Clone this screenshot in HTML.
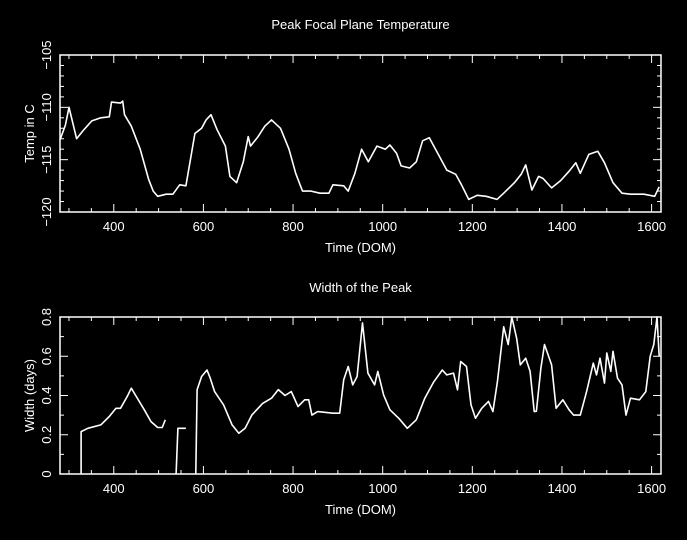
<!DOCTYPE html>
<html><head><meta charset="utf-8">
<style>
html,body{margin:0;padding:0;background:#000;}
svg{display:block;font-family:"Liberation Sans",sans-serif;}
text{fill:#fff;font-size:13px;}
</style></head>
<body>
<svg id="chart" width="687" height="540" viewBox="0 0 687 540">
<rect width="687" height="540" fill="#000"/>
</svg>
<script>
const tempDom=[280,292,300,317,332,351,371,390,395,415,420,424,439,459,478,488,498,517,532,547,561,571,581,596,606,617,630,649,659,674,689,700,705,722,737,752,772,791,806,821,840,860,880,889,913,923,938,953,968,987,1006,1016,1031,1041,1060,1075,1089,1104,1124,1143,1163,1177,1192,1211,1231,1255,1270,1294,1309,1319,1333,1348,1358,1377,1397,1416,1431,1441,1460,1480,1495,1514,1534,1553,1583,1607,1617];
const tempVals=[-113.1,-111.7,-110,-113,-112.2,-111.3,-111,-110.9,-109.5,-109.6,-109.4,-110.7,-111.8,-114,-116.9,-118,-118.5,-118.3,-118.3,-117.4,-117.5,-115,-112.5,-112,-111.2,-110.7,-112.1,-113.7,-116.6,-117.2,-115.2,-112.8,-113.7,-112.8,-111.8,-111.2,-112,-114,-116.3,-118,-118,-118.2,-118.2,-117.4,-117.5,-118,-116.3,-114,-115.2,-113.7,-114,-113.6,-114.4,-115.6,-115.8,-115.2,-113.2,-112.9,-114.5,-116,-116.4,-117.5,-118.8,-118.4,-118.5,-118.8,-118.2,-117.2,-116.4,-115.5,-117.9,-116.6,-116.8,-117.7,-117,-116.1,-115.3,-116.3,-114.5,-114.2,-115.3,-117.2,-118.2,-118.3,-118.3,-118.5,-117.6];
const widthDom=[327,327,342,371,390,405,415,430,439,449,468,483,498,508,515,null,539,539,543,561,null,583,583,586,596,608,615,625,645,664,679,693,708,732,752,767,782,796,811,826,835,842,855,889,904,913,923,933,943,955,967,982,989,1002,1016,1036,1055,1075,1094,1114,1133,1143,1158,1167,1174,1187,1197,1207,1221,1236,1246,1256,1270,1280,1288,1299,1307,1319,1329,1338,1343,1353,1361,1377,1387,1402,1416,1426,1441,1455,1470,1477,1485,1495,1500,1509,1514,1524,1534,1543,1553,1573,1587,1597,1605,1612,1617];
const widthVals=[0,0.216,0.233,0.25,0.293,0.335,0.335,0.395,0.437,0.40,0.327,0.267,0.237,0.237,0.276,null,0,0,0.233,0.233,null,0,0,0.429,0.497,0.53,0.49,0.42,0.352,0.25,0.208,0.233,0.30,0.36,0.386,0.43,0.40,0.42,0.344,0.378,0.378,0.30,0.318,0.31,0.31,0.48,0.548,0.454,0.497,0.77,0.514,0.454,0.523,0.403,0.327,0.284,0.233,0.276,0.386,0.47,0.53,0.505,0.514,0.429,0.573,0.548,0.352,0.284,0.335,0.37,0.318,0.47,0.75,0.66,0.8,0.69,0.556,0.59,0.523,0.318,0.32,0.54,0.66,0.556,0.335,0.378,0.327,0.30,0.30,0.42,0.565,0.505,0.59,0.463,0.616,0.523,0.625,0.488,0.454,0.30,0.386,0.378,0.42,0.60,0.66,0.8,0.6];
const xTicks=[400,600,800,1000,1200,1400,1600];
const tempTicks=[-105,-110,-115,-120];
const widthTicks=[0,0.2,0.4,0.6,0.8];

const NS="http://www.w3.org/2000/svg";
const svg=document.getElementById('chart');
function mk(tag,attrs,parent){const e=document.createElementNS(NS,tag);for(const k in attrs)e.setAttribute(k,attrs[k]);(parent||svg).appendChild(e);return e;}

function panel(cfg){
  const {L,R,T,B,xmin,xmax,ymin,ymax,yTicks,yMinor,xs,ys,title,titleY,ytitle,name,fmt}=cfg;
  const sx=v=>L+(v-xmin)/(xmax-xmin)*(R-L);
  const sy=v=>B-(v-ymin)/(ymax-ymin)*(B-T);
  const g=mk('g',{});
  
  
  const fr=mk('rect',{x:L,y:T,width:R-L,height:B-T,fill:'none',stroke:'#fff','stroke-width':1.5},g);
  
  
  // x ticks
  for(let v=Math.ceil(xmin/50)*50;v<=xmax;v+=50){
    const maj=v%200===0, len=maj?8:4, x=sx(v);
    const t1=mk('line',{x1:x,x2:x,y1:B,y2:B-len,stroke:'#fff','stroke-width':1},g);
    
    
    mk('line',{x1:x,x2:x,y1:T,y2:T+len,stroke:'#fff','stroke-width':1},g);
  }
  xTicks.forEach(v=>{
    const t=mk('text',{x:sx(v),y:B+19,'text-anchor':'middle'},g);
    t.textContent=v;
    
    
  });
  // y ticks
  const lo=Math.min(ymin,ymax),hi=Math.max(ymin,ymax);
  for(let i=0;;i++){
    const v=lo+i*yMinor; if(v>hi+1e-9)break;
    const isMaj=yTicks.some(t=>Math.abs(t-v)<1e-6);
    const len=isMaj?8:4, y=sy(v);
    const t1=mk('line',{x1:L,x2:L+len,y1:y,y2:y,stroke:'#fff','stroke-width':1},g);
    
    
    mk('line',{x1:R,x2:R-len,y1:y,y2:y,stroke:'#fff','stroke-width':1},g);
  }
  yTicks.forEach(v=>{
    const y=sy(v);
    const t=mk('text',{x:L-9,y:y,'text-anchor':'middle',transform:`rotate(-90 ${L-9} ${y})`},g);
    t.textContent=fmt(v);
    
    
  });
  // series
  let d='',pen=false;
  for(let i=0;i<xs.length;i++){
    if(xs[i]===null||ys[i]===null){pen=false;continue;}
    d+=(pen?'L':'M')+sx(xs[i]).toFixed(1)+' '+sy(ys[i]).toFixed(1)+' ';pen=true;
  }
  const p=mk('path',{d:d,fill:'none',stroke:'#fff','stroke-width':1.6,'stroke-linejoin':'round'},g);
  
  
  const tt=mk('text',{x:(L+R)/2,y:titleY,'text-anchor':'middle'},g);
  tt.textContent=title;
  
  
  const xt=mk('text',{x:(L+R)/2,y:B+40,'text-anchor':'middle'},g);
  xt.textContent='Time (DOM)';
  
  
  const cy=(T+B)/2;
  const yt=mk('text',{x:34,y:cy,'text-anchor':'middle',transform:`rotate(-90 34 ${cy})`},g);
  yt.textContent=ytitle;
  
  
}
panel({L:60,R:661,T:55,B:212,xmin:280,xmax:1621,ymin:-120,ymax:-105,yTicks:tempTicks,yMinor:1,
  xs:tempDom,ys:tempVals,title:'Peak Focal Plane Temperature',titleY:29,ytitle:'Temp in C',name:'temperature',fmt:v=>'\u2212'+Math.abs(v)});
panel({L:60,R:661,T:317,B:474,xmin:280,xmax:1621,ymin:0,ymax:0.8,yTicks:widthTicks,yMinor:0.1,
  xs:widthDom,ys:widthVals,title:'Width of the Peak',titleY:292,ytitle:'Width (days)',name:'width',fmt:v=>v===0?'0':v.toFixed(1)});
</script>
</body></html>
